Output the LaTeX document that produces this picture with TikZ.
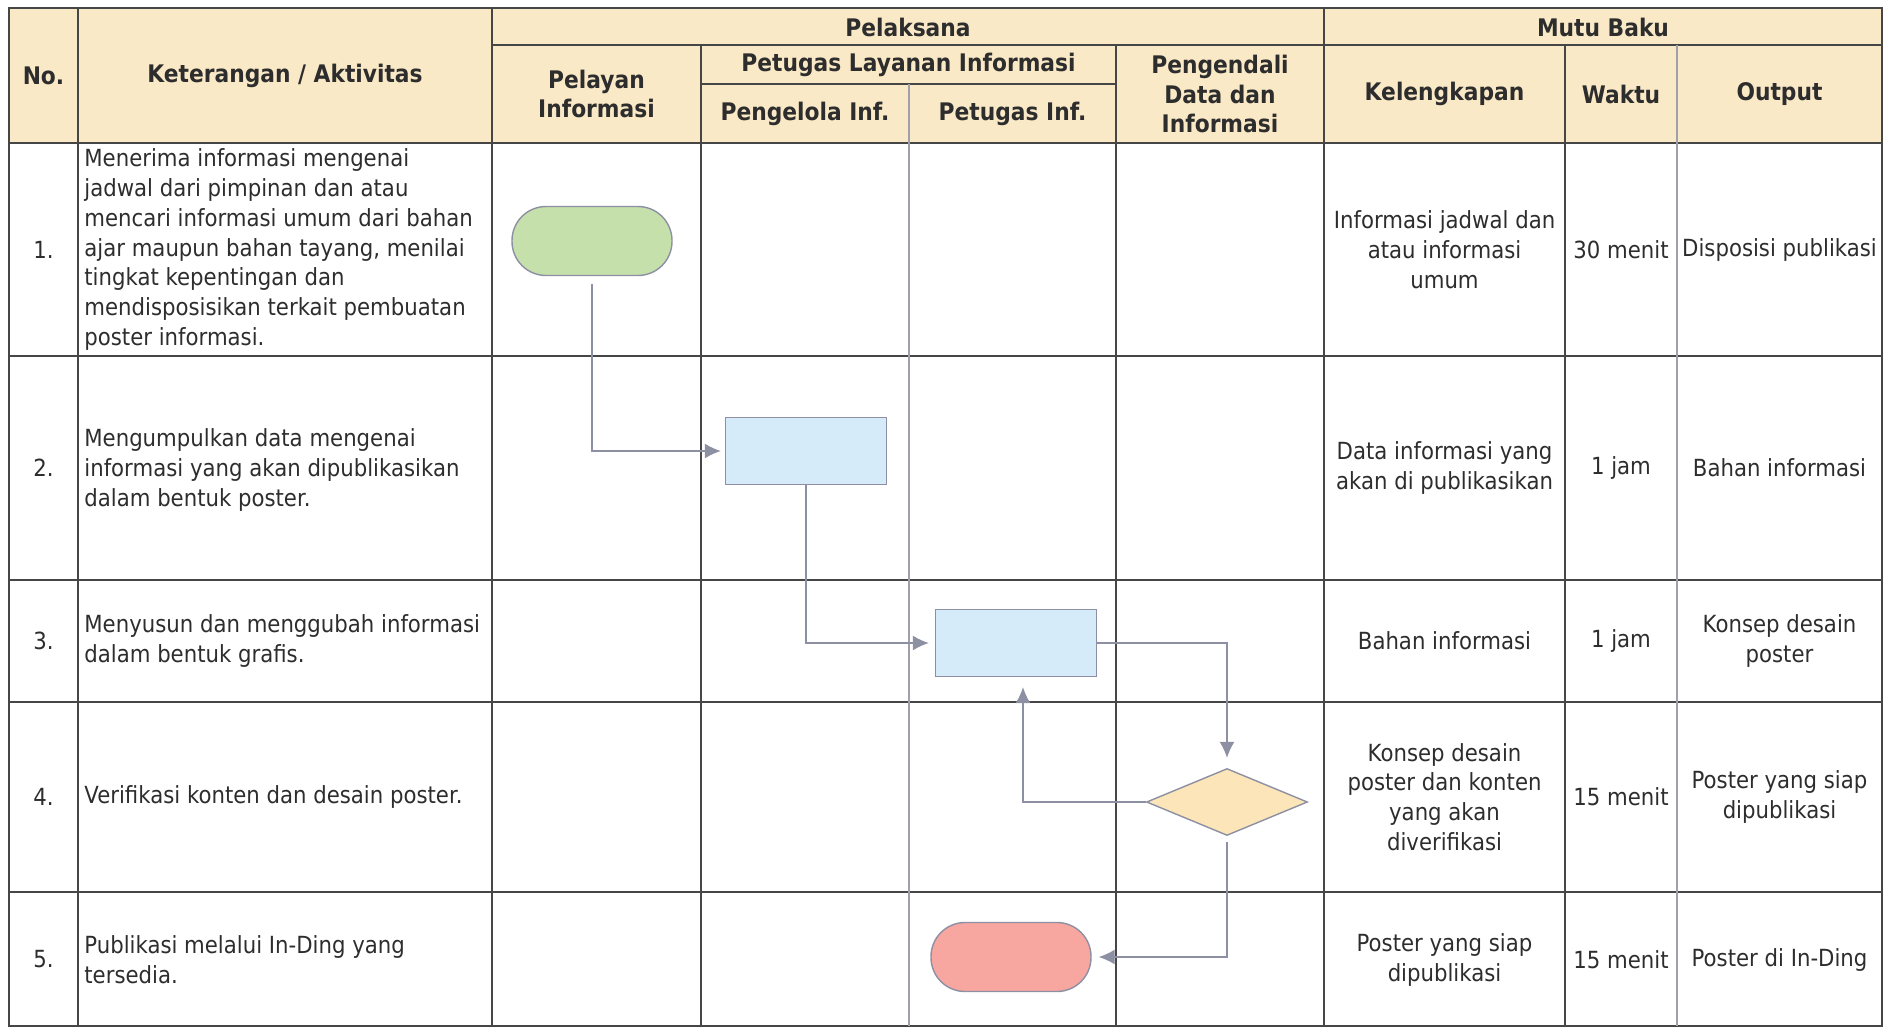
\documentclass[tikz,border=0pt]{standalone}
\usepackage{fontspec}
\setmainfont{DejaVu Sans}[FakeStretch=0.9]
\usetikzlibrary{shapes.geometric, arrows.meta}
\definecolor{headfill}{RGB}{250,233,198}
\definecolor{gridcol}{RGB}{70,70,70}
\definecolor{gridlight}{RGB}{160,160,172}
\definecolor{edgegray}{RGB}{140,144,162}
\definecolor{txt}{RGB}{45,45,45}
\definecolor{startgreen}{RGB}{198,224,172}
\definecolor{procblue}{RGB}{214,235,250}
\definecolor{decyellow}{RGB}{252,229,184}
\definecolor{endred}{RGB}{247,166,160}
\tikzset{
>={Latex[length=8pt, width=7.5pt]}, % filled arrow heads
every node/.style={font=\fontsize{11.8}{14.9}\selectfont, text=txt}, % table text
head/.style={font=\bfseries\fontsize{12.1}{14.9}\selectfont, align=center}, % header cells
cell/.style={align=center},
desc/.style={anchor=west, align=left, inner sep=0pt},
grid/.style={draw=gridcol, line width=0.8pt},
gridthin/.style={draw=gridlight, line width=0.6pt},
terminal/.style={draw=edgegray, line width=0.7pt, rounded corners=17pt, minimum width=80pt, minimum height=34.5pt},
process/.style={draw=edgegray, line width=0.7pt, fill=procblue, minimum width=80.5pt, minimum height=33.5pt},
decision/.style={diamond, draw=edgegray, line width=0.7pt, fill=decyellow, minimum width=80.5pt, minimum height=33.5pt, inner sep=0pt},
flow/.style={->, draw=edgegray, line width=0.7pt},
}

\begin{document}
\begin{tikzpicture}[x=0.5pt, y=-0.5pt]
    \useasboundingbox (0,0) rectangle (1885,1028);
    % Table
    \fill[headfill] (9,8) rectangle (1882,143);
    \draw[grid] (9,8) rectangle (1882,1026);
    \draw[grid] (492,45) -- (1882,45);
    \draw[grid] (701,84) -- (1116,84);
    \draw[grid] (9,143) -- (1882,143);
    \draw[grid] (9,356) -- (1882,356);
    \draw[grid] (9,580) -- (1882,580);
    \draw[grid] (9,702) -- (1882,702);
    \draw[grid] (9,892) -- (1882,892);
    \draw[grid] (78,8) -- (78,1026);
    \draw[grid] (492,8) -- (492,1026);
    \draw[grid] (1324,8) -- (1324,1026);
    \draw[grid] (701,45) -- (701,1026);
    \draw[grid] (1116,45) -- (1116,1026);
    \draw[grid] (1565,45) -- (1565,1026);
    \draw[gridthin] (909,84) -- (909,1026);
    \draw[gridthin] (1677,45) -- (1677,1026);

    % Header
    \node[head] (hno) at (43.5,76) {No.};
    \node[head] (hket) at (285,76) {Keterangan / Aktivitas};
    \node[head] (hpel) at (908,27) {Pelaksana};
    \node[head] (hmutu) at (1603,27) {Mutu Baku};
    \node[head] (hpelayan) at (596.5,94) {Pelayan\\Informasi};
    \node[head] (hpli) at (908.5,65) {Petugas Layanan Informasi};
    \node[head] (hpengelola) at (805,114) {Pengelola Inf.};
    \node[head] (hpetugas) at (1012.5,114) {Petugas Inf.};
    \node[head] (hpengendali) at (1220,94) {Pengendali\\Data dan\\Informasi};
    \node[head] (hkel) at (1444.5,94) {Kelengkapan};
    \node[head] (hwaktu) at (1621,94) {Waktu};
    \node[head] (hout) at (1779.5,94) {Output};

    % Rows
    \node (no1) at (43.5,249.5) {1.};
    \node (no2) at (43.5,468) {2.};
    \node (no3) at (43.5,641) {3.};
    \node (no4) at (43.5,797) {4.};
    \node (no5) at (43.5,959) {5.};
    \node[desc] (act1) at (84,249.5) {Menerima informasi mengenai\\jadwal dari pimpinan dan atau\\mencari informasi umum dari bahan\\ajar maupun bahan tayang, menilai\\tingkat kepentingan dan\\mendisposisikan terkait pembuatan\\poster informasi.};
    \node[desc] (act2) at (84,470) {Mengumpulkan data mengenai\\informasi yang akan dipublikasikan\\dalam bentuk poster.};
    \node[desc] (act3) at (84,641) {Menyusun dan menggubah informasi\\dalam bentuk grafis.};
    \node[desc] (act4) at (84,797) {Verifikasi konten dan desain poster.};
    \node[desc] (act5) at (84,960) {Publikasi melalui In-Ding yang\\tersedia.};

    \node[cell] (kel1) at (1444.5,249.5) {Informasi jadwal dan\\atau informasi\\umum};
    \node[cell] (kel2) at (1444.5,468) {Data informasi yang\\akan di publikasikan};
    \node[cell] (kel3) at (1444.5,641) {Bahan informasi};
    \node[cell] (kel4) at (1444.5,797) {Konsep desain\\poster dan konten\\yang akan\\diverifikasi};
    \node[cell] (kel5) at (1444.5,960) {Poster yang siap\\dipublikasi};
    \node (wkt1) at (1621,249.5) {30 menit};
    \node (wkt2) at (1621,468) {1 jam};
    \node (wkt3) at (1621,641) {1 jam};
    \node (wkt4) at (1621,797) {15 menit};
    \node (wkt5) at (1621,960) {15 menit};
    \node[cell] (out1) at (1779.5,249.5) {Disposisi publikasi};
    \node[cell] (out2) at (1779.5,468) {Bahan informasi};
    \node[cell] (out3) at (1779.5,641) {Konsep desain\\poster};
    \node[cell] (out4) at (1779.5,797) {Poster yang siap\\dipublikasi};
    \node[cell] (out5) at (1779.5,960) {Poster di In-Ding};

    % Flow
    \node[terminal, fill=startgreen] (start) at (592,241) {};
    \node[process] (collect) at (806,451) {};
    \node[process] (design) at (1016,643) {};
    \node[decision] (verify) at (1227,802) {};
    \node[terminal, fill=endred] (publish) at (1011,957) {};
    \draw[flow, shorten <=4pt, shorten >=2pt] (start) |- (collect);
    \draw[flow, shorten >=3pt] (collect) |- (design);
    \draw[flow, shorten >=5pt] (design.east) -| (verify);
    \draw[flow, shorten >=5pt] (verify) -| ([xshift=3.5pt]design.south);
    \draw[flow, shorten <=3pt, shorten >=3.5pt] (verify) |- (publish);
\end{tikzpicture}
\end{document}
